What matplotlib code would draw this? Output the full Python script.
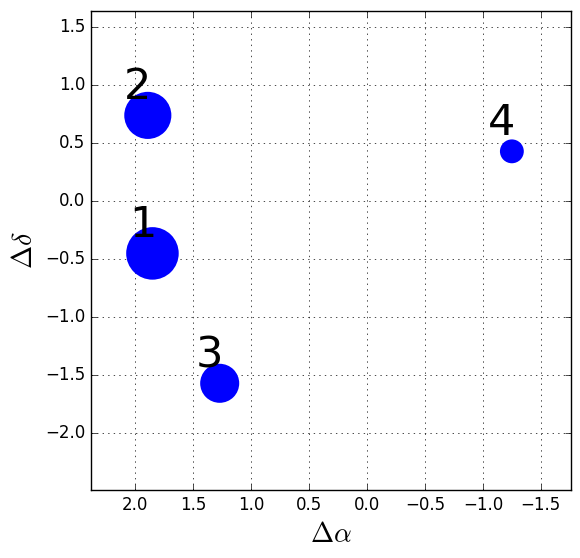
import matplotlib
matplotlib.use("Agg")
import matplotlib.pyplot as plt

# ── Data ──────────────────────────────────────────────────────────────────────
labels = ["1", "2", "3", "4"]
d_alpha = [1.85, 1.89, 1.27, -1.25]
d_delta = [-0.45, 0.74, -1.57, 0.43]
sizes = [1430, 1150, 790, 295]

# ── Plot ──────────────────────────────────────────────────────────────────────
plt.style.use("classic")
plt.rcParams["mathtext.fontset"] = "cm"

fig = plt.figure(figsize=(5.8, 5.58), dpi=100, facecolor="white")
ax = fig.add_axes([91 / 580, 1 - 490 / 558, 480 / 580, 479 / 558])

ax.scatter(d_alpha, d_delta, s=sizes, c="b", edgecolors="none", zorder=3)
for lab, x, y in zip(labels, d_alpha, d_delta):
    ax.text(x + 0.085, y + 0.14, lab, fontsize=31, ha="center", va="baseline")

ax.set_xlim(2.38, -1.76)
ax.set_ylim(-2.49, 1.64)
ax.set_xticks([2.0, 1.5, 1.0, 0.5, 0.0, -0.5, -1.0, -1.5])
ax.set_yticks([1.5, 1.0, 0.5, 0.0, -0.5, -1.0, -1.5, -2.0])
ax.grid(True)
ax.tick_params(labelsize=12)
ax.set_xlabel(r"$\Delta\alpha$", fontsize=20)
ax.set_ylabel(r"$\Delta\delta$", fontsize=20)

fig.savefig("out.png", dpi=100, facecolor="white")
